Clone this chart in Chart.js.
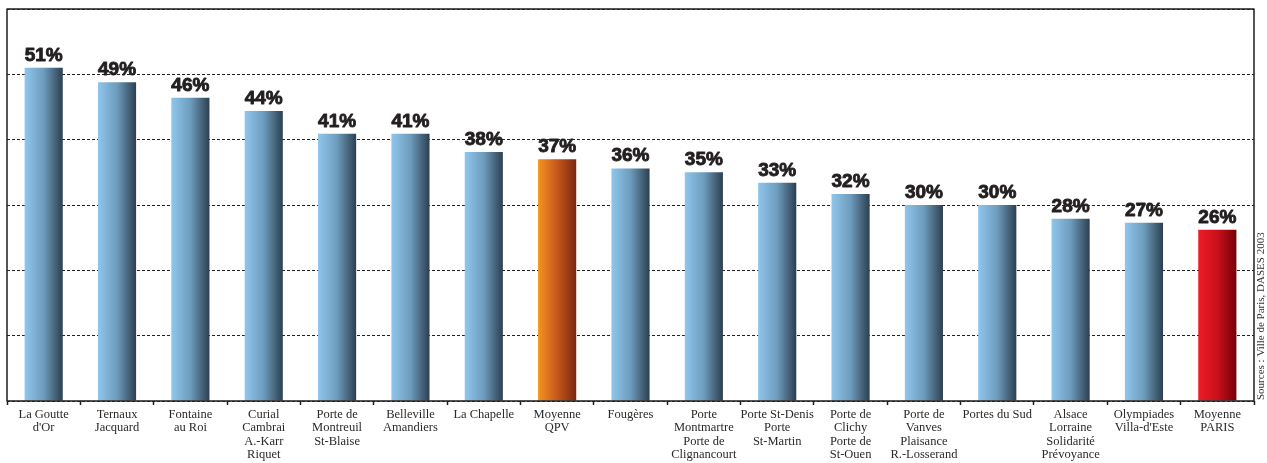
<!DOCTYPE html>
<html>
<head>
<meta charset="utf-8">
<script src="https://cdn.jsdelivr.net/npm/chart.js@4.4.0/dist/chart.umd.min.js"></script>
<style>
  body { margin: 0; background: #fff; }
  #wrap { width: 1267px; height: 463px; }
</style>
</head>
<body>
<div id="wrap"><canvas id="bar-chart" width="1267" height="463"></canvas></div>
<script>
var categories = [
    ["La Goutte", "d'Or"],
    ["Ternaux", "Jacquard"],
    ["Fontaine", "au Roi"],
    ["Curial", "Cambrai", "A.-Karr", "Riquet"],
    ["Porte de", "Montreuil", "St-Blaise"],
    ["Belleville", "Amandiers"],
    ["La Chapelle"],
    ["Moyenne", "QPV"],
    ["Fougères"],
    ["Porte", "Montmartre", "Porte de", "Clignancourt"],
    ["Porte St-Denis", "Porte", "St-Martin"],
    ["Porte de", "Clichy", "Porte de", "St-Ouen"],
    ["Porte de", "Vanves", "Plaisance", "R.-Losserand"],
    ["Portes du Sud"],
    ["Alsace", "Lorraine", "Solidarité", "Prévoyance"],
    ["Olympiades", "Villa-d'Este"],
    ["Moyenne", "PARIS"]
]
var values = [51.0, 48.8, 46.4, 44.4, 40.9, 40.9, 38.1, 37.0, 35.6, 35.0, 33.4, 31.7, 30.0, 30.0, 27.9, 27.3, 26.2]
var valueLabels = ["51%", "49%", "46%", "44%", "41%", "41%", "38%", "37%", "36%", "35%", "33%", "32%", "30%", "30%", "28%", "27%", "26%"]
var barKind = ["q", "q", "q", "q", "q", "q", "q", "qpv", "q", "q", "q", "q", "q", "q", "q", "q", "paris"]
var sourceText = "Sources : Ville de Paris, DASES 2003"

var gradientColors = {
    q: ["#90c6ec", "#6d9cbd", "#2c3f50"],
    qpv: ["#f7941e", "#c3581c", "#7a2710"],
    paris: ["#ee1c25", "#c8101c", "#760008"]
}
var BAR_FRACTION = 0.52

function barGradient(context) {
    var chart = context.chart
    var xScale = chart.scales.x
    var kind = barKind[context.dataIndex]
    var cols = gradientColors[kind]
    if (!xScale || !chart.chartArea) return cols[0]
    var cx = xScale.getPixelForValue(context.dataIndex)
    var half = (chart.chartArea.width / categories.length) * BAR_FRACTION / 2
    var g = chart.ctx.createLinearGradient(cx - half, 0, cx + half, 0)
    g.addColorStop(0, cols[0])
    g.addColorStop(0.5, cols[1])
    g.addColorStop(1, cols[2])
    return g
}

// draws the % above each bar, the frame and the source text
var extras = {
    id: 'extras',
    afterDatasetsDraw: function(chart) {
        var ctx = chart.ctx
        var meta = chart.getDatasetMeta(0)
        ctx.save()
        ctx.fillStyle = '#231f20'
        ctx.strokeStyle = '#231f20'
        ctx.lineWidth = 0.9
        ctx.lineJoin = 'round'
        ctx.font = 'bold 19px "Liberation Sans", Arial, sans-serif'
        ctx.textAlign = 'center'
        ctx.textBaseline = 'alphabetic'
        meta.data.forEach(function(bar, i) {
            ctx.fillText(valueLabels[i], bar.x, bar.y - 7)
            ctx.strokeText(valueLabels[i], bar.x, bar.y - 7)
        })

        var a = chart.chartArea
        ctx.strokeStyle = '#1e1e1e'
        ctx.lineWidth = 1.5
        ctx.strokeRect(a.left, a.top, a.right - a.left, a.bottom - a.top)

        ctx.translate(1261, a.bottom - 1)
        ctx.rotate(-Math.PI / 2)
        ctx.fillStyle = '#333'
        ctx.font = '11px "Liberation Serif", "Times New Roman", serif'
        ctx.textAlign = 'left'
        ctx.textBaseline = 'middle'
        ctx.fillText(sourceText, 0, 0)
        ctx.restore()
    }
}

new Chart(document.getElementById("bar-chart"), {
    type: 'bar',
    data: {
        labels: categories,
        datasets: [{
            data: values,
            backgroundColor: barGradient,
            borderWidth: 0,
            categoryPercentage: 1,
            barPercentage: BAR_FRACTION
        }]
    },
    options: {
        responsive: false,
        animation: false,
        layout: { padding: { left: 7, top: 9, right: 13, bottom: 0 } },
        plugins: {
            legend: { display: false },
            tooltip: { enabled: false }
        },
        scales: {
            x: {
                offset: true,
                grid: {
                    offset: true,
                    drawOnChartArea: false,
                    drawTicks: true,
                    tickLength: 4,
                    tickColor: '#1e1e1e',
                    tickWidth: 1.5
                },
                border: { display: false },
                ticks: {
                    autoSkip: false,
                    maxRotation: 0,
                    minRotation: 0,
                    padding: 3,
                    color: '#2a2a2a',
                    font: { family: '"Liberation Serif", "Times New Roman", serif', size: 12.5, lineHeight: 1.07 }
                },
                afterFit: function(scale) { scale.height = 62 }
            },
            y: {
                min: 0,
                max: 60,
                ticks: { display: false, stepSize: 10 },
                grid: { color: '#222', lineWidth: 1, drawTicks: false },
                border: { display: false, dash: [3, 2] },
                afterFit: function(scale) { scale.width = 0 }
            }
        }
    },
    plugins: [extras]
});
</script>
</body>
</html>
